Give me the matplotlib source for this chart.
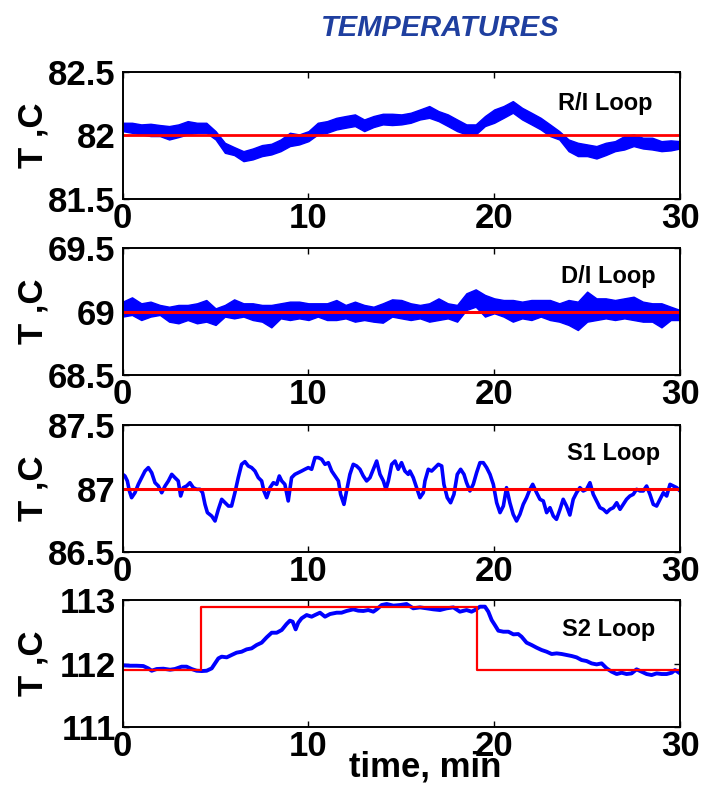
import matplotlib
matplotlib.use('Agg')
import matplotlib.pyplot as plt

plt.rcParams['font.family'] = ['Liberation Sans', 'DejaVu Sans']
plt.rcParams['font.weight'] = 'bold'

# ---------------- data ----------------
t_grid = [0.0, 0.5, 1.0, 1.5, 2.0, 2.5, 3.0, 3.5, 4.0, 4.5, 5.0, 5.5, 6.0, 6.5, 7.0, 7.5,
          8.0, 8.5, 9.0, 9.5, 10.0, 10.5, 11.0, 11.5, 12.0, 12.5, 13.0, 13.5, 14.0, 14.5,
          15.0, 15.5, 16.0, 16.5, 17.0, 17.5, 18.0, 18.5, 19.0, 19.5, 20.0, 20.5, 21.0,
          21.5, 22.0, 22.5, 23.0, 23.5, 24.0, 24.5, 25.0, 25.5, 26.0, 26.5, 27.0, 27.5,
          28.0, 28.5, 29.0, 29.5, 30.0]

# R/I loop: upper / lower edge of the noisy trace
ri_hi = [82.100, 82.100, 82.087, 82.092, 82.082, 82.074, 82.087, 82.113, 82.100, 82.100,
         82.034, 81.942, 81.908, 81.876, 81.897, 81.924, 81.934, 81.968, 82.021, 82.008,
         82.034, 82.100, 82.113, 82.139, 82.153, 82.166, 82.126, 82.153, 82.171, 82.171,
         82.166, 82.179, 82.205, 82.232, 82.192, 82.166, 82.126, 82.087, 82.087, 82.153,
         82.205, 82.232, 82.271, 82.218, 82.179, 82.139, 82.087, 82.034, 81.968, 81.942,
         81.929, 81.916, 81.942, 81.955, 81.995, 82.008, 81.982, 81.982, 81.955, 81.961,
         81.955]
ri_lo = [82.034, 82.021, 82.008, 81.995, 81.995, 81.968, 81.987, 82.008, 82.021, 82.021,
         81.968, 81.863, 81.845, 81.797, 81.811, 81.837, 81.850, 81.876, 81.916, 81.929,
         81.955, 82.008, 82.021, 82.047, 82.061, 82.074, 82.034, 82.066, 82.087, 82.082,
         82.087, 82.100, 82.126, 82.139, 82.113, 82.074, 82.034, 82.008, 82.008, 82.074,
         82.100, 82.139, 82.179, 82.126, 82.087, 82.047, 81.995, 81.968, 81.876, 81.837,
         81.837, 81.818, 81.845, 81.876, 81.889, 81.916, 81.897, 81.889, 81.876, 81.882,
         81.897]
ri_sp = 82.0

# D/I loop: upper / lower edge of the noisy trace
di_hi = [69.079, 69.113, 69.066, 69.079, 69.053, 69.039, 69.053, 69.053, 69.066, 69.092,
         69.026, 69.053, 69.097, 69.066, 69.066, 69.053, 69.053, 69.066, 69.079, 69.079,
         69.066, 69.066, 69.066, 69.092, 69.053, 69.079, 69.053, 69.039, 69.066, 69.097,
         69.092, 69.066, 69.053, 69.066, 69.105, 69.066, 69.053, 69.145, 69.176, 69.132,
         69.105, 69.092, 69.092, 69.079, 69.092, 69.092, 69.092, 69.066, 69.092, 69.079,
         69.158, 69.105, 69.105, 69.092, 69.105, 69.118, 69.079, 69.066, 69.066, 69.039,
         69.013]
di_lo = [68.961, 68.974, 68.934, 68.961, 68.974, 68.921, 68.908, 68.934, 68.908, 68.921,
         68.895, 68.961, 68.947, 68.961, 68.934, 68.921, 68.876, 68.947, 68.934, 68.947,
         68.934, 68.961, 68.934, 68.934, 68.947, 68.921, 68.934, 68.921, 68.913, 68.961,
         68.947, 68.934, 68.947, 68.921, 68.934, 68.947, 68.921, 69.013, 69.039, 68.961,
         68.987, 68.961, 68.921, 68.947, 68.934, 68.961, 68.934, 68.921, 68.895, 68.855,
         68.921, 68.934, 68.947, 68.934, 68.947, 68.934, 68.921, 68.921, 68.876, 68.934,
         68.934]
di_sp = 69.0

# S1 loop trace
s1_t = [0.00, 0.12, 0.25, 0.36, 0.48, 0.66, 0.84, 1.02, 1.20, 1.38, 1.56, 1.74, 1.92, 2.10,
        2.28, 2.46, 2.64, 2.81, 2.99, 3.12, 3.26, 3.44, 3.62, 3.80, 3.98, 4.16, 4.30, 4.43,
        4.56, 4.79, 4.97, 5.15, 5.33, 5.51, 5.69, 5.86, 6.04, 6.22, 6.40, 6.58, 6.76, 6.94,
        7.12, 7.30, 7.48, 7.60, 7.75, 7.93, 8.11, 8.29, 8.43, 8.56, 8.73, 8.91, 9.09, 9.27,
        9.45, 9.63, 9.81, 9.99, 10.17, 10.35, 10.53, 10.71, 10.89, 11.07, 11.25, 11.43,
        11.61, 11.73, 11.91, 12.05, 12.23, 12.41, 12.59, 12.77, 12.95, 13.13, 13.31, 13.49,
        13.67, 13.85, 14.03, 14.17, 14.30, 14.48, 14.66, 14.83, 15.01, 15.19, 15.37,
        15.46, 15.64, 15.82, 16.00, 16.18, 16.27, 16.45, 16.63, 16.81, 16.99, 17.17, 17.29,
        17.47, 17.65, 17.83, 18.01, 18.19, 18.37, 18.51, 18.69, 18.87, 19.05, 19.23, 19.41,
        19.59, 19.77, 19.95, 20.13, 20.31, 20.49, 20.66, 20.84, 21.02, 21.20, 21.38, 21.56,
        21.74, 21.92, 22.07, 22.28, 22.46, 22.64, 22.82, 23.00, 23.18, 23.35, 23.54, 23.71,
        23.89, 24.07, 24.25, 24.43, 24.61, 24.79, 24.97, 25.15, 25.33, 25.51, 25.69, 25.87,
        26.05, 26.23, 26.41, 26.59, 26.77, 26.94, 27.12, 27.30, 27.48, 27.66, 27.84, 28.02,
        28.20, 28.38, 28.56, 28.74, 28.92, 29.10, 29.28, 29.46, 29.64, 29.82, 30.00]
s1_v = [87.113, 87.100, 87.061, 86.982, 86.929, 86.968, 87.034, 87.087, 87.139, 87.166,
        87.126, 87.047, 87.021, 86.968, 87.021, 87.061, 87.113, 87.087, 87.061, 86.942,
        87.008, 87.021, 87.047, 87.008, 86.995, 86.995, 86.968, 86.876, 86.811, 86.784,
        86.745, 86.837, 86.916, 86.889, 86.863, 86.863, 86.968, 87.087, 87.192, 87.213,
        87.179, 87.166, 87.139, 87.087, 87.061, 86.982, 86.929, 87.008, 87.047, 87.034,
        87.100, 87.061, 87.034, 86.903, 87.087, 87.113, 87.126, 87.139, 87.153, 87.166,
        87.153, 87.245, 87.245, 87.232, 87.192, 87.205, 87.139, 87.100, 87.061, 86.955,
        86.876, 86.982, 87.113, 87.192, 87.179, 87.153, 87.100, 87.061, 87.087, 87.153,
        87.218, 87.113, 87.061, 86.995, 87.061, 87.192, 87.218, 87.153, 87.205, 87.139,
        87.113,
        87.139, 87.087, 87.008, 86.929, 86.968, 87.061, 87.153, 87.139, 87.166, 87.192,
        87.179, 87.034, 86.929, 86.889, 86.955, 87.113, 87.153, 87.113, 87.047, 86.982,
        87.034, 87.126, 87.205, 87.205, 87.166, 87.113, 87.034, 86.889, 86.811, 86.863,
        87.008, 86.889, 86.797, 86.745, 86.797, 86.876, 86.929, 86.995, 87.034, 86.968,
        86.916, 86.903, 86.811, 86.850, 86.784, 86.758, 86.837, 86.916, 86.863, 86.792,
        86.916, 86.968, 87.008, 86.982, 86.995, 87.047, 86.955, 86.903, 86.850, 86.837,
        86.811, 86.837, 86.850, 86.889, 86.837, 86.876, 86.916, 86.942, 86.955, 86.995,
        86.982, 86.982, 87.021, 86.955, 86.876, 86.863, 86.916, 86.968, 86.942, 87.034,
        87.021, 87.008, 86.982]
s1_sp = 87.0

# S2 loop trace
s2_t = [0.00, 0.39, 0.75, 1.11, 1.38, 1.56, 1.83, 2.19, 2.55, 2.81, 3.17, 3.44, 3.71, 3.98,
        4.25, 4.52, 4.79, 4.97, 5.15, 5.33, 5.60, 5.86, 6.13, 6.40, 6.67, 6.94, 7.21, 7.48,
        7.75, 8.02, 8.29, 8.56, 8.82, 9.00, 9.15, 9.31, 9.45, 9.63, 9.90, 10.17, 10.35,
        10.62, 10.89, 11.16, 11.52, 11.78, 12.05, 12.41, 12.68, 12.95, 13.22, 13.49, 13.67,
        13.94, 14.21, 14.57, 14.93, 15.28,
        15.64, 16.00, 16.36, 16.72, 17.08, 17.44, 17.80, 18.15, 18.51, 18.78, 18.96, 19.23,
        19.50, 19.68, 19.86, 20.03, 20.22, 20.49, 20.76, 21.03, 21.29, 21.47, 21.74, 22.01,
        22.28, 22.55, 22.82, 23.09, 23.36, 23.63, 23.90, 24.17, 24.43, 24.70, 24.97, 25.24,
        25.51, 25.78, 26.05, 26.32, 26.59, 26.86, 27.12, 27.39, 27.66, 27.93, 28.20, 28.47,
        28.74, 29.01, 29.28, 29.55, 29.73, 30.00]
s2_v = [111.974, 111.968, 111.968, 111.963, 111.926, 111.889, 111.916, 111.921, 111.905,
        111.916, 111.953, 111.953, 111.916, 111.889, 111.884, 111.889, 111.926, 112.005,
        112.084, 112.111, 112.100, 112.137, 112.174, 112.189, 112.226, 112.242, 112.295,
        112.332, 112.416, 112.489, 112.489, 112.532, 112.626, 112.679, 112.663, 112.542,
        112.647, 112.716, 112.768, 112.742, 112.768, 112.805, 112.742, 112.784, 112.805,
        112.805, 112.832, 112.858, 112.837, 112.832, 112.847, 112.821, 112.858, 112.926,
        112.942, 112.916, 112.926, 112.942,
        112.874, 112.889, 112.874, 112.858, 112.847, 112.874, 112.889, 112.821, 112.847,
        112.821, 112.847, 112.900, 112.900, 112.821, 112.689, 112.611, 112.521, 112.505,
        112.505, 112.463, 112.468, 112.426, 112.332, 112.295, 112.253, 112.216, 112.189,
        112.153, 112.163, 112.153, 112.137, 112.121, 112.100, 112.058, 112.042, 112.005,
        111.989, 112.005, 111.926, 111.874, 111.837, 111.858, 111.837, 111.847, 111.911,
        111.874, 111.837, 111.821, 111.847, 111.837, 111.837, 111.858, 111.900, 111.847]
s2_sp_t = [0.0, 4.21, 19.05, 30.0]
s2_sp_v = [111.9, 112.9, 111.9, 111.9]

x_ticks = [0, 10, 20, 30]
x_ticklabels = ['0', '10', '20', '30']
panels = [
    dict(name='R/I Loop', ylim=(81.5, 82.5), yticks=[81.5, 82, 82.5], ylabels=['81.5', '82', '82.5']),
    dict(name='D/I Loop', ylim=(68.5, 69.5), yticks=[68.5, 69, 69.5], ylabels=['68.5', '69', '69.5']),
    dict(name='S1 Loop', ylim=(86.5, 87.5), yticks=[86.5, 87, 87.5], ylabels=['86.5', '87', '87.5']),
    dict(name='S2 Loop', ylim=(111, 113), yticks=[111, 112, 113], ylabels=['111', '112', '113']),
]
title = 'TEMPERATURES'
ylabel = 'T ,C'
xlabel = 'time, min'

# ---------------- figure ----------------
BLUE = '#0000ff'
RED = '#ff0000'
fig = plt.figure(figsize=(7.10, 7.92), dpi=100)
left, width, height = 0.1728, 0.785, 0.16
bottoms = [0.749, 0.5265, 0.303, 0.082]
label_pos = [(0.865, 0.755), (0.872, 0.774), (0.880, 0.78), (0.872, 0.766)]

axes = []
for i, p in enumerate(panels):
    ax = fig.add_axes([left, bottoms[i], width, height])
    axes.append(ax)
    ax.set_xlim(0, 30)
    ax.set_ylim(*p['ylim'])
    ax.set_xticks(x_ticks)
    ax.set_xticklabels(x_ticklabels)
    ax.set_yticks(p['yticks'])
    ax.set_yticklabels(p['ylabels'])
    ax.tick_params(direction='in', length=4, width=1.0, top=True, right=True,
                   labelsize=25)
    ax.tick_params(axis='x', pad=2)
    ax.tick_params(axis='y', pad=5)
    for lab in ax.get_xticklabels() + ax.get_yticklabels():
        lab.set_fontweight('bold')
    for s in ax.spines.values():
        s.set_linewidth(1.4)
    ax.text(label_pos[i][0], label_pos[i][1], p['name'], transform=ax.transAxes,
            ha='center', va='center', fontsize=17, fontweight='bold')
    fig.text(0.046, bottoms[i] + height / 2, ylabel, rotation=90, ha='center',
             va='center', fontsize=25, fontweight='bold')

# R/I
axes[0].fill_between(t_grid, ri_lo, ri_hi, color=BLUE, lw=1.0)
axes[0].axhline(ri_sp, color=RED, lw=2.0)
# D/I
axes[1].fill_between(t_grid, di_lo, di_hi, color=BLUE, lw=1.0)
axes[1].axhline(di_sp, color=RED, lw=2.2)
# S1
axes[2].plot(s1_t, s1_v, color=BLUE, lw=2.6)
axes[2].axhline(s1_sp, color=RED, lw=2.2)
# S2
axes[3].plot(s2_t, s2_v, color=BLUE, lw=2.8)
axes[3].step(s2_sp_t, s2_sp_v, where='post', color=RED, lw=1.6)

fig.text(0.62, 0.965, title, ha='center', va='center', fontsize=21,
         fontweight='bold', fontstyle='italic', color='#1f3f9f')
fig.text(0.599, 0.031, xlabel, ha='center', va='center', fontsize=25,
         fontweight='bold')

fig.savefig('out.png', dpi=100)
